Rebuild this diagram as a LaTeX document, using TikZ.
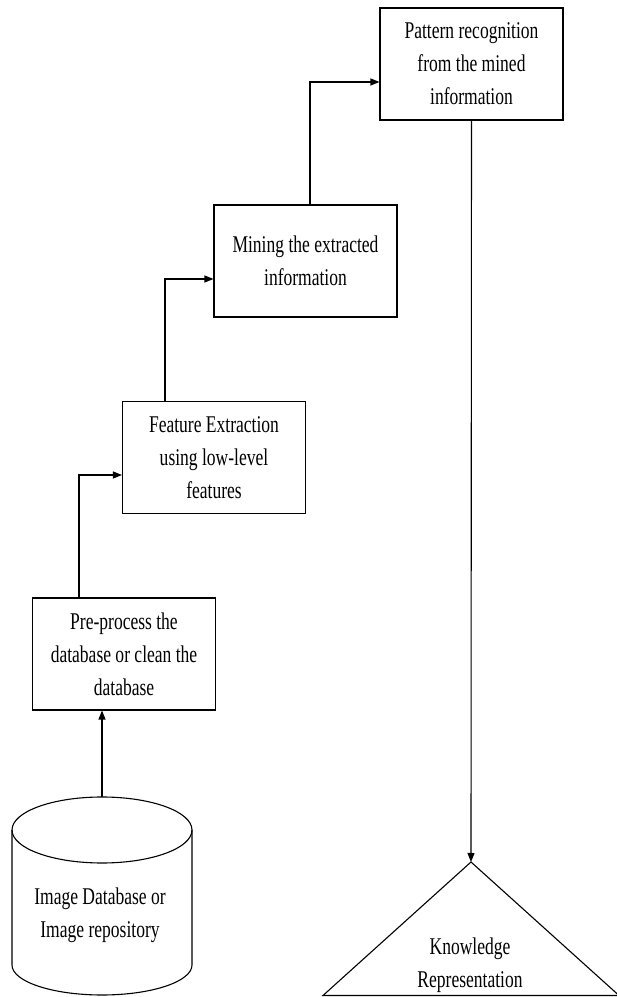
\documentclass[tikz,border=0pt]{standalone}
\usepackage{fontspec}
\setmainfont{Liberation Serif}[FakeStretch=0.73]
\usetikzlibrary{arrows.meta}
\begin{document}
\begin{tikzpicture}[x=1pt,y=1pt,
  lbl/.style={font=\fontsize{24}{33}\selectfont, align=center, inner sep=0pt},
  stepbox/.style={draw, line width=1.1pt, minimum width=183pt, minimum height=112pt, lbl},
  arr/.style={line width=1.1pt, -{Triangle[length=9pt,width=7pt]}},
  shapeline/.style={line width=1.1pt}]
\useasboundingbox (0,0) rectangle (617,997);
% boxes
\node[stepbox] (pat) at (471.5,933) {Pattern recognition\\from the mined\\information};
\node[stepbox] (mine) at (305.5,736) {Mining the extracted\\information};
\node[stepbox] (feat) at (214,539.5) {Feature Extraction\\using low-level\\features};
\node[stepbox] (pre) at (124,343) {Pre-process the\\database or clean the\\database};
% cylinder
\draw[shapeline] (12,167) -- (12,32) arc[start angle=180, end angle=360, x radius=90, y radius=30] -- (192,167);
\draw[shapeline] (102,167) ellipse[x radius=90, y radius=33];
\coordinate (dbtop) at (102,200);
\node[lbl] (db) at (100,82) {Image Database or\\Image repository};
% triangle
\draw[shapeline] (323,1.5) -- (471,135) -- (619,1.5) -- cycle;
\coordinate (apex) at (471,135);
\node[lbl] (kr) at (470,31.5) {Knowledge\\Representation};
% connectors
\draw[arr] (dbtop) -- (dbtop |- pre.south);
\draw[arr] ([xshift=-45pt]pre.north) |- ([yshift=-17.5pt]feat.west);
\draw[arr] ([xshift=-49pt]feat.north) |- ([yshift=-18pt]mine.west);
\draw[arr] ([xshift=4.5pt]mine.north) |- ([yshift=-18pt]pat.west);
\draw[arr] (pat.south) -- (apex);
\end{tikzpicture}
\end{document}
